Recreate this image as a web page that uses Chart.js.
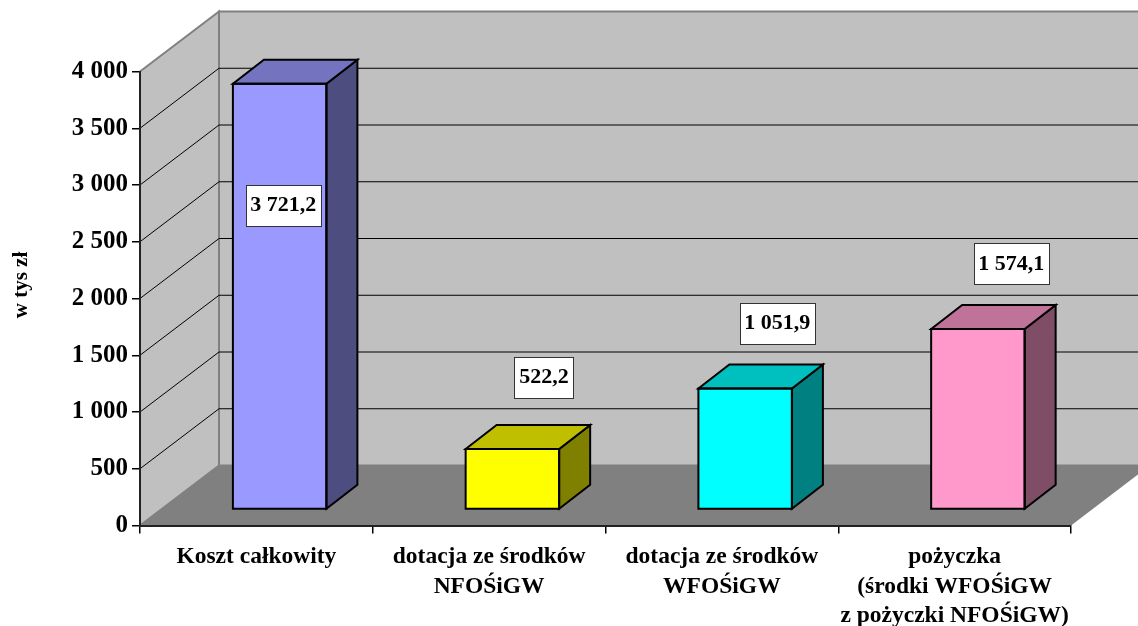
<!DOCTYPE html>
<html>
<head>
<meta charset="utf-8">
<style>
  body { margin: 0; background: #fff; }
  canvas { display: block; }
</style>
</head>
<body>
<canvas id="myChart" width="1138" height="626"></canvas>
<script src="https://cdn.jsdelivr.net/npm/chart.js@4/dist/chart.umd.min.js"></script>
<script>
const categories = [
  "Koszt całkowity",
  ["dotacja ze środków", "NFOŚiGW"],
  ["dotacja ze środków", "WFOŚiGW"],
  ["pożyczka", "(środki WFOŚiGW", "z pożyczki NFOŚiGW)"],
];
const values = [3721.2, 522.2, 1051.9, 1574.1];
const valueLabels = ["3 721,2", "522,2", "1 051,9", "1 574,1"];
const frontColors = ["#9999FF", "#FFFF00", "#00FFFF", "#FF99CC"];
const topColors = ["#7373BF", "#BFBF00", "#00BFBF", "#BF7399"];
const sideColors = ["#4D4D80", "#808000", "#008080", "#804D66"];
const axisTitle = "w tys zł";

const fontFamily = '"Liberation Serif", "Times New Roman", serif';

// depth of the whole box and of one bar
const wallDx = 79;
const wallDy = 60;
const barDx = 31;
const barDy = 24;

// where the value boxes sit, relative to the top of each bar
const labelDx = [3.6, 31.5, 32, 33.3];
const labelDy = [121.5, -72, -65.5, -65];

function poly(ctx, pts, fill, stroke, width) {
  ctx.beginPath();
  pts.forEach((p, i) => (i ? ctx.lineTo(p[0], p[1]) : ctx.moveTo(p[0], p[1])));
  ctx.closePath();
  if (fill) {
    ctx.fillStyle = fill;
    ctx.fill();
  }
  if (stroke) {
    ctx.strokeStyle = stroke;
    ctx.lineWidth = width;
    ctx.stroke();
  }
}

const wallsPlugin = {
  id: "walls",
  beforeDraw(chart) {
    const ctx = chart.ctx;
    const { left, right } = chart.chartArea;
    const yScale = chart.scales.y;
    const y0 = yScale.getPixelForValue(0);
    const yMax = yScale.getPixelForValue(4000);

    ctx.save();
    // back wall
    poly(ctx, [[left + wallDx, yMax - wallDy], [right + wallDx, yMax - wallDy], [right + wallDx, y0 - wallDy], [left + wallDx, y0 - wallDy]], "#C0C0C0", "#808080", 2);
    // side wall
    poly(ctx, [[left, yMax], [left + wallDx, yMax - wallDy], [left + wallDx, y0 - wallDy], [left, y0]], "#C0C0C0", "#808080", 2);
    // floor
    poly(ctx, [[left, y0], [right, y0], [right + wallDx, y0 - wallDy], [left + wallDx, y0 - wallDy]], "#808080");

    // grid lines go round the side wall and the back wall
    ctx.strokeStyle = "#000";
    ctx.lineWidth = 1;
    yScale.ticks.forEach((t) => {
      if (t.value === 0 || t.value === 4000) return;
      const y = yScale.getPixelForValue(t.value);
      ctx.beginPath();
      ctx.moveTo(left, y);
      ctx.lineTo(left + wallDx, y - wallDy);
      ctx.lineTo(right + wallDx, y - wallDy);
      ctx.stroke();
    });
    ctx.restore();
  },
};

const barsPlugin = {
  id: "bars3d",
  afterDatasetsDraw(chart) {
    const ctx = chart.ctx;
    const bars = chart.getDatasetMeta(0).data;

    ctx.save();
    ctx.lineJoin = "miter";
    bars.forEach((bar, i) => {
      const x1 = bar.x - bar.width / 2;
      const x2 = bar.x + bar.width / 2;
      const top = bar.y;
      const bottom = bar.base;
      poly(ctx, [[x2, top], [x2 + barDx, top - barDy], [x2 + barDx, bottom - barDy], [x2, bottom]], sideColors[i], "#000", 2);
      poly(ctx, [[x1, top], [x1 + barDx, top - barDy], [x2 + barDx, top - barDy], [x2, top]], topColors[i], "#000", 2);
      poly(ctx, [[x1, top], [x2, top], [x2, bottom], [x1, bottom]], null, "#000", 2);
    });

    // value boxes
    ctx.font = "bold 22px " + fontFamily;
    ctx.textAlign = "center";
    ctx.textBaseline = "middle";
    bars.forEach((bar, i) => {
      const cx = bar.x + labelDx[i];
      const cy = bar.y + labelDy[i];
      const w = Math.round(ctx.measureText(valueLabels[i]).width) + 9;
      const h = 41;
      const bx = Math.round(cx - w / 2) + 0.5;
      const by = Math.round(cy - h / 2) + 0.5;
      ctx.fillStyle = "#fff";
      ctx.fillRect(bx, by, w, h);
      ctx.strokeStyle = "#333";
      ctx.lineWidth = 1;
      ctx.strokeRect(bx, by, w, h);
      ctx.fillStyle = "#000";
      ctx.fillText(valueLabels[i], cx, cy);
    });

    // axis title sits higher than the middle of the axis
    ctx.translate(22, 285);
    ctx.rotate(-Math.PI / 2);
    ctx.font = "bold 21px " + fontFamily;
    ctx.fillStyle = "#000";
    ctx.fillText(axisTitle, 0, 0);
    ctx.restore();
  },
};

let ctx = document.getElementById("myChart").getContext("2d");
let chart = new Chart(ctx, {
  type: "bar",
  data: {
    labels: categories,
    datasets: [
      {
        data: values.map((v, i) => ({ x: i, y: v })),
        backgroundColor: frontColors,
        borderWidth: 0,
        barThickness: 93.5,
        xAxisID: "barX",
        yAxisID: "barY",
      },
    ],
  },
  plugins: [wallsPlugin, barsPlugin],
  options: {
    responsive: false,
    animation: false,
    layout: { padding: { top: 71.5, right: 67, bottom: 0, left: 0 } },
    plugins: { legend: { display: false }, tooltip: { enabled: false } },
    scales: {
      x: {
        type: "category",
        offset: true,
        afterFit: (scale) => { scale.height = 100.5; },
        grid: { offset: true, drawOnChartArea: false, color: "#000", tickLength: 8, lineWidth: 1.5 },
        border: { color: "#222", width: 2 },
        ticks: {
          color: "#000",
          maxRotation: 0,
          autoSkip: false,
          padding: 9,
          font: { family: fontFamily, weight: "bold", size: 23.5, lineHeight: 1.25 },
        },
      },
      y: {
        min: 0,
        max: 4000,
        afterFit: (scale) => { scale.width = 140; },
        grid: { drawOnChartArea: false, color: "#000", tickLength: 8, lineWidth: 1.5 },
        border: { color: "#222", width: 2 },
        ticks: {
          stepSize: 500,
          color: "#000",
          padding: 4,
          font: { family: fontFamily, weight: "bold", size: 25 },
          callback: (v) => (v >= 1000 ? Math.floor(v / 1000) + " " + String(v % 1000).padStart(3, "0") : String(v)),
        },
      },
      // bars stand a little way in from the front of the floor
      barX: { type: "linear", display: false, offset: false, min: -0.6, max: 3.4 },
      barY: { type: "linear", display: false, min: -147, max: 3828 },
    },
  },
});
</script>
</body>
</html>
